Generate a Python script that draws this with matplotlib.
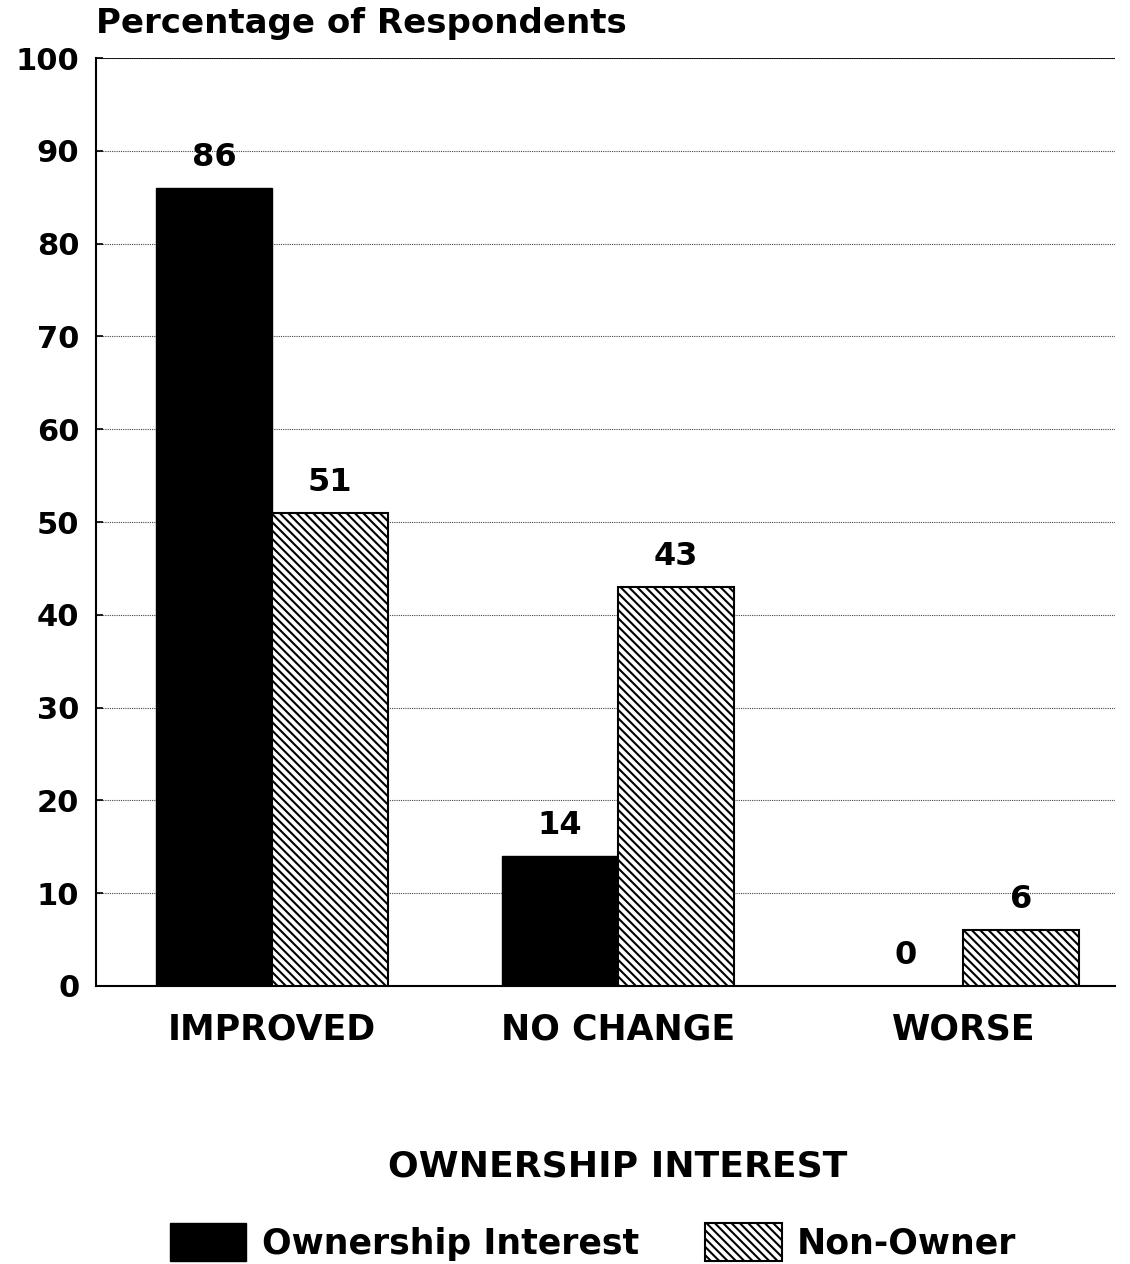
import matplotlib.pyplot as plt
import matplotlib.patches as mpatches
import numpy as np

categories = ['IMPROVED', 'NO CHANGE', 'WORSE']
owner = [86, 14, 0]
non_owner = [51, 43, 6]
yticks = list(range(0, 101, 10))

plt.rcParams['font.family'] = ['DejaVu Sans']
plt.rcParams['font.weight'] = 'bold'
plt.rcParams['hatch.linewidth'] = 1.5

HATCH = '\\' * 4

fig = plt.figure(figsize=(11.3, 12.64), dpi=100)
ax = fig.add_axes([0.085, 0.22, 0.902, 0.734])

x = np.arange(len(categories))
w = 0.336

ax.bar(x - w / 2, owner, w, color='black', edgecolor='black', zorder=3)
ax.bar(x + w / 2, non_owner, w, color='white', edgecolor='black',
       hatch=HATCH, linewidth=1.5, zorder=3)

# value labels above each bar
for xi, v in zip(x - w / 2, owner):
    ax.text(xi, v + 1.6, str(v), ha='center', va='bottom', fontsize=23)
for xi, v in zip(x + w / 2, non_owner):
    ax.text(xi, v + 1.6, str(v), ha='center', va='bottom', fontsize=23)

ax.set_xlim(-0.51, 2.44)
ax.set_ylim(0, 100)
ax.set_yticks(yticks)
ax.set_yticklabels([str(t) for t in yticks], fontsize=22)
ax.set_xticks(x)
ax.set_xticklabels(categories, fontsize=25)
ax.tick_params(axis='x', length=0, pad=19)
ax.tick_params(axis='y', length=5, width=1.2, pad=12, direction='in')

ax.yaxis.grid(True, linestyle=(0, (1, 1)), color='#444444', linewidth=0.8, zorder=0)
ax.axhline(100, color='black', linewidth=1.2, zorder=2)

for side in ['top', 'right']:
    ax.spines[side].set_visible(False)
ax.spines['left'].set_linewidth(1.5)
ax.spines['bottom'].set_linewidth(1.5)

fig.text(0.085, 0.968, 'Percentage of Respondents', fontsize=24.5, ha='left', va='bottom')
fig.text(0.547, 0.077, 'OWNERSHIP INTEREST', fontsize=26, ha='center', va='center')

handles = [mpatches.Patch(facecolor='black', edgecolor='black'),
           mpatches.Patch(facecolor='white', edgecolor='black', hatch=HATCH, linewidth=1.5)]
fig.legend(handles, ['Ownership Interest', 'Non-Owner'], loc='center', ncol=2,
           bbox_to_anchor=(0.525, 0.0175), frameon=False, fontsize=25,
           handlelength=2.2, handleheight=1.3, columnspacing=1.9, handletextpad=0.45)

fig.savefig('out.png', dpi=100)
